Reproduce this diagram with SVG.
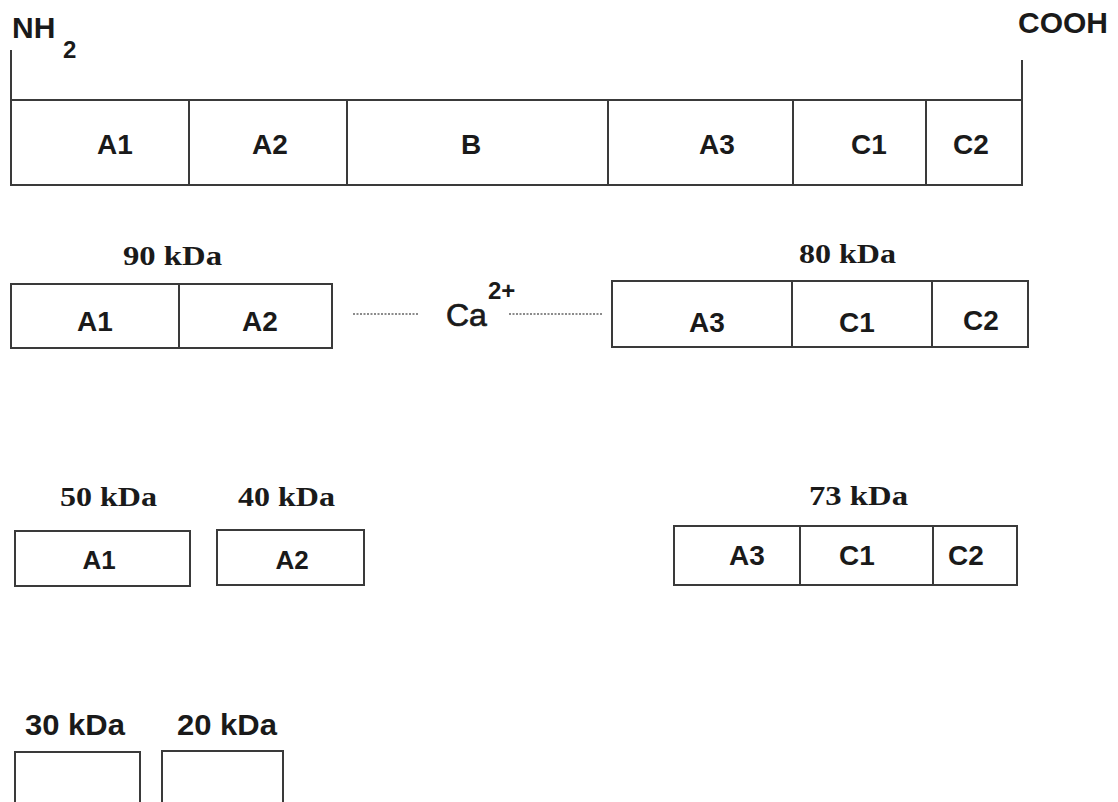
<svg xmlns="http://www.w3.org/2000/svg" width="1118" height="802" viewBox="0 0 1118 802">
<style>
.box{fill:#fff;stroke:#3a3a3a;stroke-width:2}
.ln{stroke:#3a3a3a;stroke-width:2;fill:none}
.lbl{font-family:"Liberation Sans",Arial,sans-serif;font-weight:bold;font-size:28px;fill:#1a1a1a;text-anchor:middle}
.lbl3{font-family:"Liberation Sans",Arial,sans-serif;font-weight:bold;font-size:26px;fill:#1a1a1a;text-anchor:middle}
.kda{font-family:"Liberation Serif","Times New Roman",serif;font-weight:bold;font-size:27px;fill:#1a1a1a}
.kdas{font-family:"Liberation Sans",Arial,sans-serif;font-weight:bold;font-size:30px;fill:#1a1a1a}
.term{font-family:"Liberation Sans",Arial,sans-serif;font-weight:bold;font-size:30px;fill:#1a1a1a}
.dot{stroke:#666;stroke-width:1.5;stroke-dasharray:2 1.5;fill:none}
</style>
<rect width="1118" height="802" fill="#fff"/>

<g id="full-protein">
  <text class="term" x="12" y="38">NH</text>
  <text class="term" x="63" y="58" style="font-size:24px">2</text>
  <text class="term" x="1108" y="33" text-anchor="end">COOH</text>
  <line class="ln" x1="11" y1="50" x2="11" y2="101"/>
  <line class="ln" x1="1022" y1="60" x2="1022" y2="100"/>
  <rect class="box" x="11" y="100" width="1011" height="85"/>
  <line class="ln" x1="189" y1="100" x2="189" y2="185"/>
  <line class="ln" x1="347" y1="100" x2="347" y2="185"/>
  <line class="ln" x1="608" y1="100" x2="608" y2="185"/>
  <line class="ln" x1="793" y1="100" x2="793" y2="185"/>
  <line class="ln" x1="926" y1="100" x2="926" y2="185"/>
  <text class="lbl" x="115" y="154">A1</text>
  <text class="lbl" x="270" y="154">A2</text>
  <text class="lbl" x="471" y="154">B</text>
  <text class="lbl" x="717" y="154">A3</text>
  <text class="lbl" x="869" y="154">C1</text>
  <text class="lbl" x="971" y="154">C2</text>
</g>

<g id="heavy-90kDa">
  <text class="kda" x="123" y="265" textLength="99" lengthAdjust="spacingAndGlyphs">90 kDa</text>
  <rect class="box" x="11" y="284" width="321" height="64"/>
  <line class="ln" x1="179" y1="284" x2="179" y2="348"/>
  <text class="lbl" x="95" y="331">A1</text>
  <text class="lbl" x="260" y="331">A2</text>
</g>

<g id="calcium">
  <text x="446" y="326" style="font-family:'Liberation Sans',Arial,sans-serif;font-size:32px;fill:#1a1a1a;stroke:#1a1a1a;stroke-width:0.7">Ca</text>
  <text x="488" y="299" style="font-family:'Liberation Sans',Arial,sans-serif;font-weight:bold;font-size:24px;fill:#1a1a1a">2+</text>
</g>

<g id="light-80kDa">
  <text class="kda" x="799" y="263" textLength="97" lengthAdjust="spacingAndGlyphs">80 kDa</text>
  <rect class="box" x="612" y="281" width="416" height="66"/>
  <line class="ln" x1="792" y1="281" x2="792" y2="347"/>
  <line class="ln" x1="932" y1="281" x2="932" y2="347"/>
  <text class="lbl" x="707" y="332">A3</text>
  <text class="lbl" x="857" y="332">C1</text>
  <text class="lbl" x="981" y="330">C2</text>
</g>

<g id="a1-50kDa">
  <text class="kda" x="60" y="506" textLength="97" lengthAdjust="spacingAndGlyphs">50 kDa</text>
  <rect class="box" x="15" y="531" width="175" height="55"/>
  <text class="lbl3" x="99" y="569">A1</text>
</g>

<g id="a2-40kDa">
  <text class="kda" x="238" y="506" textLength="97" lengthAdjust="spacingAndGlyphs">40 kDa</text>
  <rect class="box" x="217" y="530" width="147" height="55"/>
  <text class="lbl3" x="292" y="569">A2</text>
</g>

<g id="light-73kDa">
  <text class="kda" x="809" y="505" textLength="99" lengthAdjust="spacingAndGlyphs">73 kDa</text>
  <rect class="box" x="674" y="526" width="343" height="59"/>
  <line class="ln" x1="800" y1="526" x2="800" y2="585"/>
  <line class="ln" x1="933" y1="526" x2="933" y2="585"/>
  <text class="lbl" x="747" y="565">A3</text>
  <text class="lbl" x="857" y="565">C1</text>
  <text class="lbl" x="966" y="565">C2</text>
</g>

<g id="frag-30kDa">
  <text class="kdas" x="25" y="735" textLength="100" lengthAdjust="spacingAndGlyphs">30 kDa</text>
  <rect class="box" x="15" y="752" width="125" height="70"/>
</g>

<g id="frag-20kDa">
  <text class="kdas" x="177" y="735" textLength="100" lengthAdjust="spacingAndGlyphs">20 kDa</text>
  <rect class="box" x="162" y="751" width="121" height="70"/>
</g>

<g id="connectors">
  <line class="dot" x1="353" y1="314" x2="419" y2="314"/>
  <line class="dot" x1="509" y1="314" x2="603" y2="314"/>
</g>
</svg>
